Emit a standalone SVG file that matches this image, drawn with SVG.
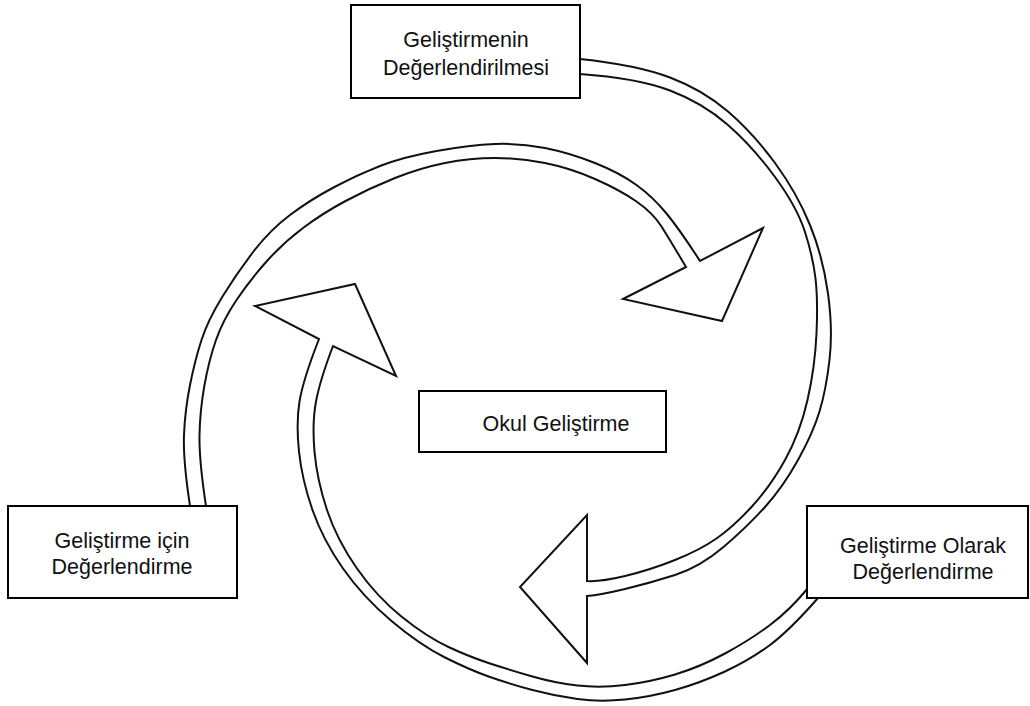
<svg xmlns="http://www.w3.org/2000/svg" width="1030" height="706" viewBox="0 0 1030 706">
<style>
.box{fill:#fff;stroke:#000;stroke-width:2}
.lbl{font-family:"Liberation Sans",Arial,sans-serif;font-size:21.5px;fill:#111;text-anchor:middle}
.arr{fill:none;stroke:#111;stroke-width:2;stroke-linejoin:miter}
</style>
<rect width="1030" height="706" fill="#fff"/>
<g id="connectors">
<path class="arr" d="M580,59 Q637,65 670,77.5 Q703,90 728,111.5 Q753,133 775,163 Q797,193 810,225 Q823,257 828,293.5 Q833,330 829.5,360 Q826,390 819.5,411.5 Q813,433 798,460 Q783,487 765,507 Q747,527 723.5,547 Q700,567 675,575 Q650,583 625,589 Q600,595 587,596 L587,663 L520,587 L587,515 L587,581 Q600,582 625,576 Q650,570 675,560 Q700,550 716.5,538.5 Q733,527 751.5,507 Q770,487 785,460 Q800,433 807.5,400 Q815,367 816.5,333.5 Q818,300 815.5,278.5 Q813,257 805,232 Q797,207 775,177 Q753,147 728,125 Q703,103 670,90.5 Q637,78 580,74"/>
<path class="arr" d="M818,598 Q790,630 770,645 Q750,660 725,671.5 Q700,683 675,690 Q650,697 625,699.5 Q600,702 577.5,699 Q555,696 532.5,690 Q510,684 490,677 Q470,670 445,657.5 Q420,645 391.5,621 Q363,597 343,568.5 Q323,540 312.5,510 Q302,480 299,451.5 Q296,423 299.5,401.5 Q303,380 319,339 L255,306 L355,284 L396,376 L333,346 Q320,380 316,401.5 Q312,423 314.5,451.5 Q317,480 327,510 Q337,540 357,568.5 Q377,597 402,617 Q427,637 448.5,647 Q470,657 490,663.5 Q510,670 532.5,676.5 Q555,683 577.5,685.5 Q600,688 625,685 Q650,682 675,674.5 Q700,667 725,653.5 Q750,640 770,625 Q790,610 808,588"/>
<path class="arr" d="M190,506 Q183,460 184,435 Q185,410 190,385 Q195,360 201.5,340 Q208,320 222.5,296.5 Q237,273 253.5,251.5 Q270,230 290,215 Q310,200 333.5,187.5 Q357,175 380,166 Q403,157 436.5,151 Q470,145 495,144 Q520,143 545,148 Q570,153 595,163 Q620,173 636.5,185 Q653,197 666.5,213.5 Q680,230 700,261 L763,228 L722,321 L623,299 L686,267 Q670,240 661.5,226.5 Q653,213 636.5,201.5 Q620,190 595,179 Q570,168 545,163 Q520,158 495,158 Q470,158 445,163 Q420,168 395,178 Q370,188 346.5,200.5 Q323,213 303,228 Q283,243 266.5,261.5 Q250,280 236.5,300 Q223,320 216,340 Q209,360 204.5,385 Q200,410 199.5,435 Q199,460 206,506"/>
</g>
<g id="node-top">
<rect class="box" x="351" y="5" width="229" height="93"/>
<text class="lbl" x="466" y="47">Geliştirmenin</text>
<text class="lbl" x="466" y="75">Değerlendirilmesi</text>
</g>
<g id="node-center">
<rect class="box" x="419" y="391" width="247" height="61"/>
<text class="lbl" x="556" y="431">Okul Geliştirme</text>
</g>
<g id="node-left">
<rect class="box" x="8" y="506" width="229" height="92"/>
<text class="lbl" x="122" y="548">Geliştirme için</text>
<text class="lbl" x="122" y="574">Değerlendirme</text>
</g>
<g id="node-right">
<rect class="box" x="807" y="506" width="221" height="92"/>
<text class="lbl" x="923" y="553">Geliştirme Olarak</text>
<text class="lbl" x="923" y="579">Değerlendirme</text>
</g>
</svg>
